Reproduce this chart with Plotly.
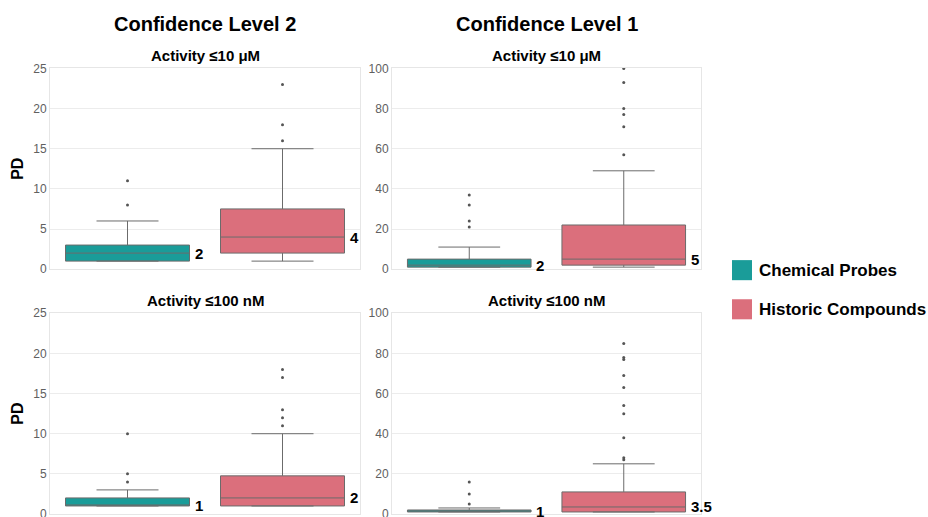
import plotly.graph_objects as go

# ---- data -----------------------------------------------------------------
CATEGORIES = ["Chemical Probes", "Historic Compounds"]
COLORS = ["#1a9c99", "#db6f7c"]

# Confidence Level 2, activity <= 10 uM  (index 0: probes, 1: historic)
CL2_UM_Q1 = [1, 2]
CL2_UM_MEDIAN = [2, 4]
CL2_UM_Q3 = [3, 7.5]
CL2_UM_LOW = [1, 1]
CL2_UM_HIGH = [6, 15]
CL2_UM_OUT_PROBES = [8, 11]
CL2_UM_OUT_HISTORIC = [16, 18, 23]

# Confidence Level 1, activity <= 10 uM
CL1_UM_Q1 = [1, 2]
CL1_UM_MEDIAN = [2, 5]
CL1_UM_Q3 = [5, 22]
CL1_UM_LOW = [1, 1]
CL1_UM_HIGH = [11, 49]
CL1_UM_OUT_PROBES = [21, 24, 32, 37]
CL1_UM_OUT_HISTORIC = [57, 71, 77, 80, 93, 100]

# Confidence Level 2, activity <= 100 nM
CL2_NM_Q1 = [1, 1]
CL2_NM_MEDIAN = [1, 2]
CL2_NM_Q3 = [2, 4.75]
CL2_NM_LOW = [1, 1]
CL2_NM_HIGH = [3, 10]
CL2_NM_OUT_PROBES = [4, 5, 10]
CL2_NM_OUT_HISTORIC = [11, 12, 13, 17, 18]

# Confidence Level 1, activity <= 100 nM
CL1_NM_Q1 = [1, 1]
CL1_NM_MEDIAN = [1, 3.5]
CL1_NM_Q3 = [2, 11]
CL1_NM_LOW = [1, 1]
CL1_NM_HIGH = [3, 25]
CL1_NM_OUT_PROBES = [5, 10, 16]
CL1_NM_OUT_HISTORIC = [27, 28, 38, 50, 54, 63, 69, 77, 78, 85]

MEDIAN_LABELS_CL2_UM = ["2", "4"]
MEDIAN_LABELS_CL1_UM = ["2", "5"]
MEDIAN_LABELS_CL2_NM = ["1", "2"]
MEDIAN_LABELS_CL1_NM = ["1", "3.5"]

COLUMN_TITLES = ["Confidence Level 2", "Confidence Level 1"]
ROW_TITLES = ["Activity ≤10 μM", "Activity ≤100 nM"]

# ---- layout helpers ----------------------------------------------------------
W, H = 928, 525
FONT = "Liberation Sans, Arial, sans-serif"
# vertical placement: target pixel rows are converted to figure rows
Y_SCALE = 517 / 533
Y_OFFSET = 8


def fx(x):
    return x / W


def fy(y):
    return 1 - (y / Y_SCALE - Y_OFFSET) / H


panels = [
    dict(sfx="", col=0, row=0, ymax=25, dtick=5,
         q1=CL2_UM_Q1, med=CL2_UM_MEDIAN, q3=CL2_UM_Q3, lo=CL2_UM_LOW, hi=CL2_UM_HIGH,
         outs=[CL2_UM_OUT_PROBES, CL2_UM_OUT_HISTORIC], labels=MEDIAN_LABELS_CL2_UM),
    dict(sfx="2", col=1, row=0, ymax=100, dtick=20,
         q1=CL1_UM_Q1, med=CL1_UM_MEDIAN, q3=CL1_UM_Q3, lo=CL1_UM_LOW, hi=CL1_UM_HIGH,
         outs=[CL1_UM_OUT_PROBES, CL1_UM_OUT_HISTORIC], labels=MEDIAN_LABELS_CL1_UM),
    dict(sfx="3", col=0, row=1, ymax=25, dtick=5,
         q1=CL2_NM_Q1, med=CL2_NM_MEDIAN, q3=CL2_NM_Q3, lo=CL2_NM_LOW, hi=CL2_NM_HIGH,
         outs=[CL2_NM_OUT_PROBES, CL2_NM_OUT_HISTORIC], labels=MEDIAN_LABELS_CL2_NM),
    dict(sfx="4", col=1, row=1, ymax=100, dtick=20,
         q1=CL1_NM_Q1, med=CL1_NM_MEDIAN, q3=CL1_NM_Q3, lo=CL1_NM_LOW, hi=CL1_NM_HIGH,
         outs=[CL1_NM_OUT_PROBES, CL1_NM_OUT_HISTORIC], labels=MEDIAN_LABELS_CL1_NM),
]

COL_X = [(50, 360), (392, 701)]     # pixel spans of the panel columns
ROW_Y = [(69, 269), (313, 513)]     # pixel spans of the panel rows (top, bottom)

fig = go.Figure()
annotations = []
layout_axes = {}

for p in panels:
    xa, ya = "x" + p["sfx"], "y" + p["sfx"]
    for i, cat in enumerate(CATEGORIES):
        fig.add_trace(go.Box(
            x=[cat], q1=[p["q1"][i]], median=[p["med"][i]], q3=[p["q3"][i]],
            lowerfence=[p["lo"][i]], upperfence=[p["hi"][i]],
            width=0.8, whiskerwidth=0.5, boxpoints=False,
            fillcolor=COLORS[i], line=dict(color="#6b6b6b", width=1),
            xaxis=xa, yaxis=ya, showlegend=False, hoverinfo="y",
        ))
        fig.add_trace(go.Scatter(
            x=[cat] * len(p["outs"][i]), y=p["outs"][i], mode="markers",
            marker=dict(size=3, color="#555555"), cliponaxis=False,
            xaxis=xa, yaxis=ya, showlegend=False, hoverinfo="y",
        ))
        annotations.append(dict(
            x=i + 0.4, y=p["med"][i], xref=xa, yref=ya, text=p["labels"][i],
            xanchor="left", yanchor="middle", xshift=3, showarrow=False,
            font=dict(family=FONT, size=15, color="black", weight="bold"),
        ))

    x0, x1 = COL_X[p["col"]]
    y0, y1 = ROW_Y[p["row"]]
    layout_axes["xaxis" + p["sfx"]] = dict(
        domain=[fx(x0), fx(x1)], anchor=ya, type="category",
        categoryorder="array", categoryarray=CATEGORIES, range=[-0.5, 1.5],
        showticklabels=False, showgrid=False, zeroline=False,
        showline=True, mirror=True, linecolor="#e6e6e6", linewidth=1, ticks="",
    )
    layout_axes["yaxis" + p["sfx"]] = dict(
        domain=[fy(y1), fy(y0)], anchor=xa, range=[0, p["ymax"]],
        tick0=0, dtick=p["dtick"], showgrid=True, gridcolor="#ececec", gridwidth=1,
        zeroline=False, showline=True, mirror=True, linecolor="#e6e6e6", linewidth=1,
        ticks="", tickfont=dict(family=FONT, size=12, color="#606060"),
    )

# column titles
for c, title in enumerate(COLUMN_TITLES):
    cx = sum(COL_X[c]) / 2
    annotations.append(dict(
        x=fx(cx), y=fy(25), xref="paper", yref="paper", text=title,
        xanchor="center", yanchor="middle", showarrow=False,
        font=dict(family=FONT, size=20, color="black", weight="bold"),
    ))

# panel titles
for r, title in enumerate(ROW_TITLES):
    ty = [56, 300][r]
    for c in range(2):
        cx = sum(COL_X[c]) / 2
        annotations.append(dict(
            x=fx(cx), y=fy(ty), xref="paper", yref="paper", text=title,
            xanchor="center", yanchor="middle", showarrow=False,
            font=dict(family=FONT, size=15, color="black", weight="bold"),
        ))

# y-axis titles
for r in range(2):
    cy = sum(ROW_Y[r]) / 2
    annotations.append(dict(
        x=fx(18), y=fy(cy), xref="paper", yref="paper", text="PD",
        textangle=-90, xanchor="center", yanchor="middle", showarrow=False,
        font=dict(family=FONT, size=16, color="black", weight="bold"),
    ))

# legend
shapes = []
for i, (cat, col) in enumerate(zip(CATEGORIES, COLORS)):
    top = [260, 299][i]
    shapes.append(dict(
        type="rect", xref="paper", yref="paper",
        x0=fx(732), x1=fx(752), y0=fy(top + 20), y1=fy(top),
        fillcolor=col, line=dict(width=0),
    ))
    annotations.append(dict(
        x=fx(757), y=fy(top + 10), xref="paper", yref="paper", text=cat,
        xanchor="left", yanchor="middle", showarrow=False,
        font=dict(family=FONT, size=17, color="black", weight="bold"),
    ))

fig.update_layout(
    width=W, height=H, autosize=False,
    margin=dict(l=0, r=0, t=0, b=0),
    paper_bgcolor="white", plot_bgcolor="white",
    boxmode="overlay", showlegend=False,
    annotations=annotations, shapes=shapes,
    font=dict(family=FONT),
    **layout_axes,
)

fig.write_html("out.html")
